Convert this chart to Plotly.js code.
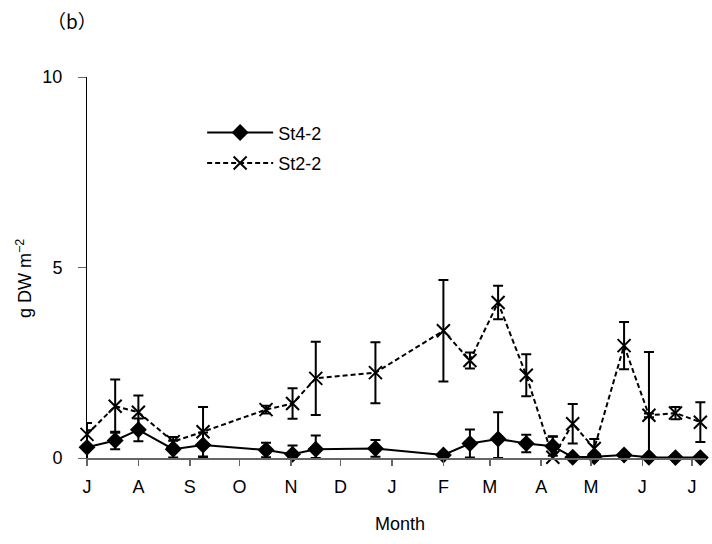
<!DOCTYPE html>
<html>
<head>
<meta charset="utf-8">
<script src="https://cdn.plot.ly/plotly-3.0.1.min.js"></script>
<style>html,body{margin:0;padding:0;background:#fff;}#chart{width:712px;height:544px;}</style>
</head>
<body>
<div id="chart"></div>
<script>
// Sampling dates
const sampleDates = ['2006-07-01','2006-07-18','2006-08-01','2006-08-22','2006-09-09','2006-10-17','2006-11-02','2006-11-16','2006-12-22','2007-02-01','2007-02-17','2007-03-06','2007-03-23','2007-04-08','2007-04-20','2007-05-03','2007-05-21','2007-06-05','2007-06-21','2007-07-06'];

// St4-2 (diamonds, solid line)
const st42 = [0.28, 0.46, 0.74, 0.23, 0.34, 0.21, 0.10, 0.23, 0.25, 0.08, 0.38, 0.50, 0.38, 0.31, 0.02, 0.03, 0.08, 0.02, 0.01, 0.01];
const st42ErrPlus = [0.45, 0.23, 0.30, 0.22, 0.33, 0.19, 0.23, 0.36, 0.22, 0.05, 0.37, 0.70, 0.23, 0.25, 0.00, 0.00, 0.05, 2.76, 0.00, 0.00];
const st42ErrMinus = [0.45, 0.23, 0.30, 0.22, 0.33, 0.19, 0.10, 0.23, 0.22, 0.05, 0.37, 0.50, 0.23, 0.25, 0.00, 0.00, 0.05, 0.02, 0.00, 0.00];

// St2-2 (crosses, dashed line)
const st22 = [0.62, 1.36, 1.20, 0.43, 0.69, 1.27, 1.43, 2.09, 2.24, 3.34, 2.56, 4.08, 2.17, 0.02, 0.90, 0.25, 2.95, 1.12, 1.18, 0.94];
const st22Err = [0.30, 0.70, 0.44, 0.12, 0.65, 0.10, 0.40, 0.96, 0.80, 1.33, 0.21, 0.44, 0.55, 0.55, 0.52, 0.25, 0.62, 0.05, 0.16, 0.52];

// Axis ticks
const monthTickDates = ['2006-07-01','2006-08-01','2006-09-01','2006-10-01','2006-11-01','2006-12-01','2007-01-01','2007-02-01','2007-03-01','2007-04-01','2007-05-01','2007-06-01','2007-07-01'];
const monthTickLabels = ['J','A','S','O','N','D','J','F','M','A','M','J','J'];
const yTickVals = [0, 5, 10];

const FONT = 'Arial, "Liberation Sans", sans-serif';

const traces = [
  {
    x: sampleDates, y: st42, name: 'St4-2', type: 'scatter', mode: 'lines+markers',
    legendgroup: 'a', cliponaxis: false,
    line: {color: '#000', width: 2},
    marker: {symbol: 'diamond', size: 13, color: '#000'},
    error_y: {type: 'data', symmetric: false, array: st42ErrPlus, arrayminus: st42ErrMinus, color: '#000', thickness: 2, width: 5}
  },
  {
    x: sampleDates, y: st22, name: 'St2-2', type: 'scatter', mode: 'lines+markers',
    legendgroup: 'b', cliponaxis: false,
    line: {color: '#000', width: 2, dash: '5px,3px'},
    marker: {symbol: 'x-thin-open', size: 13, color: '#000', line: {color: '#000', width: 2}},
    error_y: {type: 'data', array: st22Err, color: '#000', thickness: 2, width: 5}
  }
];

const layout = {
  width: 712, height: 544,
  margin: {l: 87, r: 6, t: 77, b: 86},
  paper_bgcolor: '#fff', plot_bgcolor: '#fff',
  font: {family: FONT, size: 18, color: '#000'},
  showlegend: true,
  legend: {x: 0.186, y: 0.902, xanchor: 'left', yanchor: 'top', bgcolor: 'rgba(0,0,0,0)',
           font: {family: FONT, size: 18, color: '#000'}, itemwidth: 66, tracegroupgap: 4},
  xaxis: {
    type: 'date', range: ['2006-07-01', '2007-07-09 10:00'],
    tickmode: 'array', tickvals: monthTickDates, ticktext: monthTickLabels,
    ticks: 'outside', ticklen: 6, tickwidth: 1.5, tickcolor: '#666',
    showline: true, linecolor: '#666', linewidth: 1.5,
    showgrid: false, zeroline: false, ticklabelstandoff: 6,
    tickfont: {family: FONT, size: 18, color: '#000'}
  },
  yaxis: {
    range: [0, 10], tickmode: 'array', tickvals: yTickVals,
    ticks: 'outside', ticklen: 8, tickwidth: 1, tickcolor: '#666',
    showline: true, linecolor: '#000', linewidth: 1,
    showgrid: false, zeroline: false, ticklabelstandoff: 12,
    tickfont: {family: FONT, size: 18, color: '#000'}
  },
  annotations: [
    {text: 'Month', xref: 'paper', yref: 'paper', x: 0.505, y: -0.173, xanchor: 'center', yanchor: 'middle', showarrow: false, font: {family: FONT, size: 18, color: '#000'}},
    {text: 'g DW m<sup>−2</sup>', xref: 'paper', yref: 'paper', x: -0.102, y: 0.472, xanchor: 'center', yanchor: 'middle', textangle: -90, showarrow: false, font: {family: FONT, size: 18, color: '#000'}},
    {text: '（b）', xref: 'paper', yref: 'paper', x: -0.024, y: 1.147, xanchor: 'center', yanchor: 'middle', showarrow: false, font: {family: '"Noto Sans CJK JP", sans-serif', size: 19, color: '#000'}}
  ]
};

Plotly.newPlot('chart', traces, layout, {displayModeBar: false, staticPlot: true});
</script>
</body>
</html>
